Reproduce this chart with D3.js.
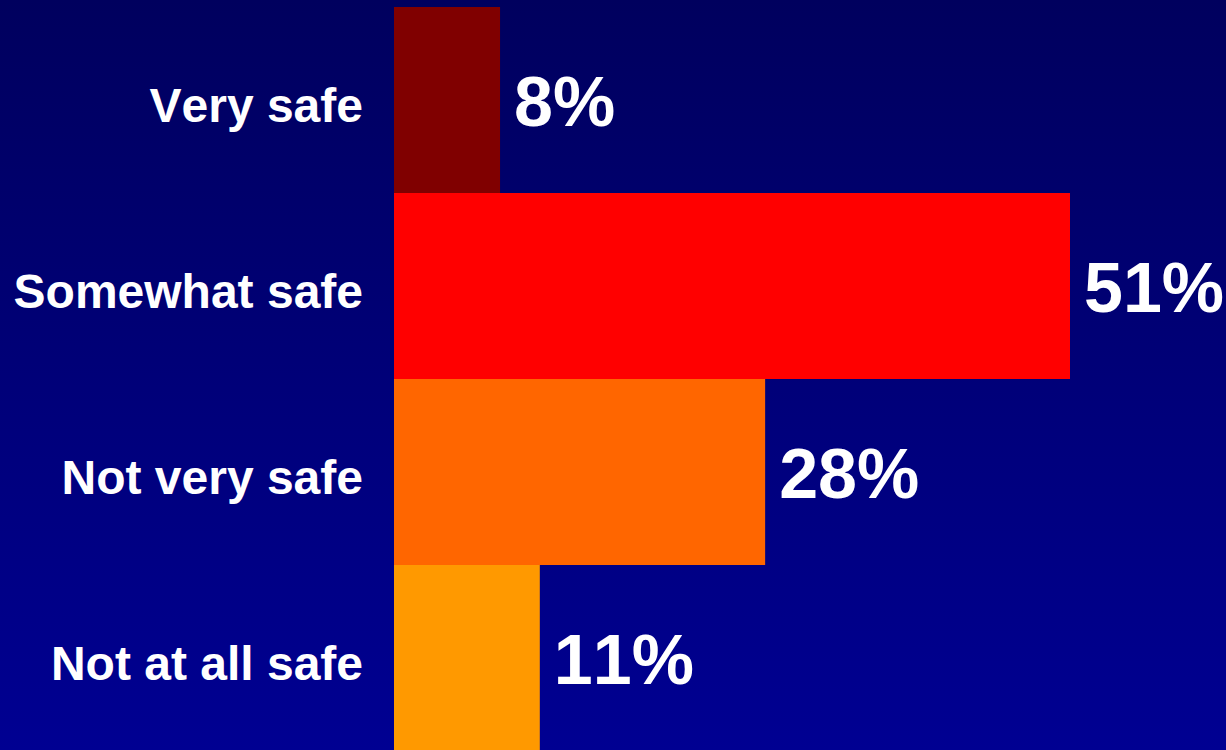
<!DOCTYPE html>
<html><head><meta charset="utf-8">
<script src="https://cdn.jsdelivr.net/npm/d3@7"></script>
<style>html,body{margin:0;padding:0;overflow:hidden;background:#000080} text{font-kerning:none}</style>
</head><body>
<script>
const categories = ["Very safe", "Somewhat safe", "Not very safe", "Not at all safe"];
const values = [8, 51, 28, 11];
const colors = ["#800000", "#FF0000", "#FF6600", "#FF9900"];
const valueLabels = ["8%", "51%", "28%", "11%"];

const W = 1226, H = 750;
const svg = d3.select("body").append("svg").attr("width", W).attr("height", H);
const defs = svg.append("defs");
const grad = defs.append("linearGradient").attr("id", "bg").attr("x1", 0).attr("y1", 0).attr("x2", 0).attr("y2", 1);
grad.append("stop").attr("offset", "0%").attr("stop-color", "#00005E");
grad.append("stop").attr("offset", "100%").attr("stop-color", "#000092");
svg.append("rect").attr("width", W).attr("height", H).attr("fill", "url(#bg)");

const x = d3.scaleLinear().domain([0, 51]).range([394, 1070]);
const y = d3.scaleBand().domain(categories).range([7, 751]).padding(0);

const font = "'Liberation Sans', Arial, Helvetica, sans-serif";

svg.selectAll("rect.bar").data(categories).join("rect")
  .attr("class", "bar")
  .attr("x", x(0))
  .attr("y", d => y(d))
  .attr("width", (d, i) => x(values[i]) - x(0))
  .attr("height", y.bandwidth())
  .attr("fill", (d, i) => colors[i]);

svg.selectAll("text.cat").data(categories).join("text")
  .attr("class", "cat")
  .attr("x", 363)
  .attr("y", d => y(d) + y.bandwidth() / 2 + 22)
  .attr("text-anchor", "end")
  .attr("font-family", font).attr("font-weight", "bold").attr("font-size", 48)
  .attr("fill", "#fff")
  .text(d => d);

svg.selectAll("text.val").data(categories).join("text")
  .attr("class", "val")
  .attr("x", (d, i) => x(values[i]) + 14)
  .attr("y", d => y(d) + y.bandwidth() / 2 + 26)
  .attr("font-family", font).attr("font-weight", "bold").attr("font-size", 70)
  .attr("fill", "#fff")
  .text((d, i) => valueLabels[i]);
</script>
</body></html>
